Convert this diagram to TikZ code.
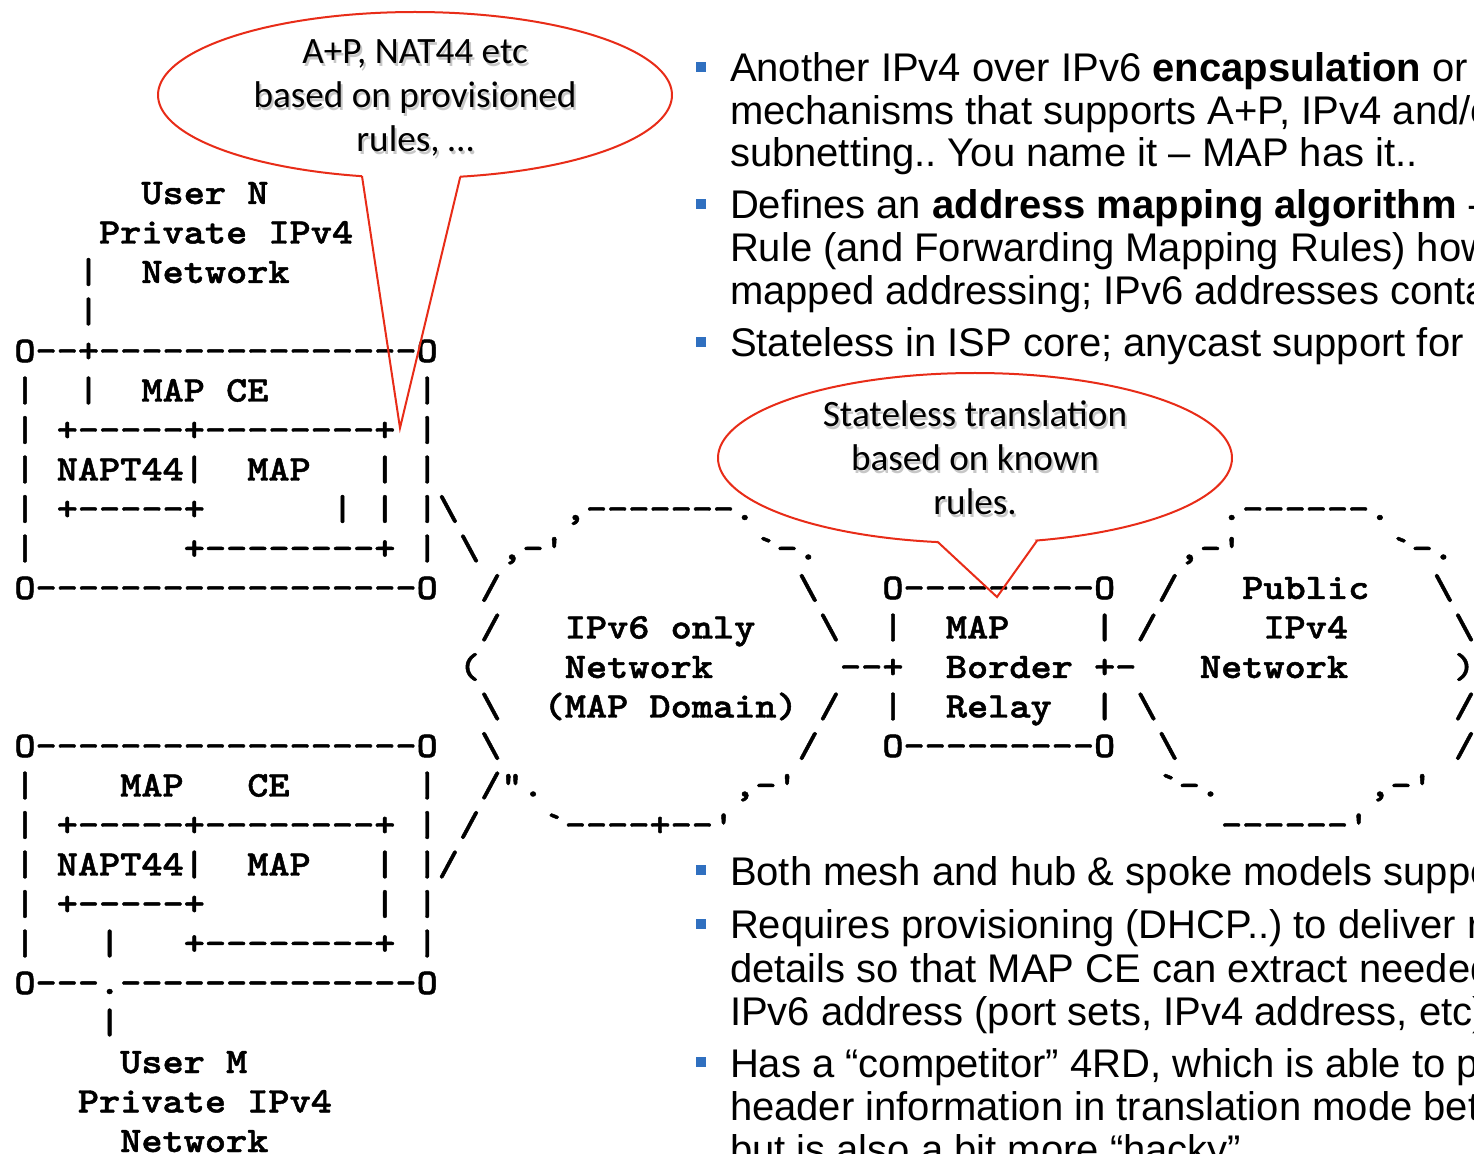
\documentclass[tikz,border=0pt]{standalone}
\usepackage{fontspec}
\setmainfont{Liberation Sans}
\newfontfamily\artfont{lmmonolt10-bold.otf}[FakeStretch=1.12,FakeBold=1.3,Ligatures=TeXOff]
\newfontfamily\calfont{Carlito}
\definecolor{callred}{RGB}{232,44,24}
\definecolor{bulletblue}{RGB}{48,112,192}
\frenchspacing
\tikzset{
  art/.style={anchor=base west, inner sep=0pt, outer sep=0pt, font=\artfont\fontsize{18pt}{18pt}\selectfont},
  body/.style={anchor=base west, inner sep=0pt, outer sep=0pt, font=\fontsize{20pt}{24pt}\selectfont\frenchspacing},
  calltext/.style={anchor=base, inner sep=0pt, outer sep=0pt, font=\calfont\fontsize{18.6pt}{22pt}\selectfont},
  callshadow/.style={calltext, text=black!40, opacity=0.55},
  callout/.style={draw=callred, line width=1pt, line join=miter},
  bulletsq/.style={fill=bulletblue, draw=none, minimum size=4.8pt, inner sep=0pt, outer sep=0pt},
}
\newcommand\art[3]{\node[art] (a#2x#1) at ({14.4+21.17*#1},{204+39.5*#2}) {#3};}
\newcommand\ctext[4]{\node[callshadow] (#1s) at ({#2+2},{#3+3}) {#4};\node[calltext] (#1) at (#2,#3) {#4};}
\begin{document}
\begin{tikzpicture}[x=0.5pt,y=-0.5pt]
\useasboundingbox (0,0) rectangle (1474,1154);
\fill[white] (0,0) rectangle (1474,1154);
\clip (0,0) rectangle (1474,1154);

% ---- ASCII art ----
\art{6}{0}{User N}
\art{4}{1}{Private IPv4}
\art{3}{2}{|}\art{6}{2}{Network}
\art{3}{3}{|}
\art{0}{4}{O--+---------------O}
\art{0}{5}{|}\art{3}{5}{|}\art{6}{5}{MAP CE}\art{19}{5}{|}
\art{0}{6}{|}\art{2}{6}{+-----+--------+}\art{19}{6}{|}
\art{0}{7}{|}\art{2}{7}{NAPT44|}\art{11}{7}{MAP}\art{17}{7}{|}\art{19}{7}{|}
\art{0}{8}{|}\art{2}{8}{+-----+}\art{15}{8}{|}\art{17}{8}{|}\art{19}{8}{|\textbackslash}\art{26}{8}{,-------.}\art{57}{8}{.------.}
\art{0}{9}{|}\art{8}{9}{+--------+}\art{19}{9}{|}\art{21}{9}{\textbackslash}\art{23}{9}{,-'}\art{35}{9}{`-.}\art{55}{9}{,-'}\art{65}{9}{`-.}
\art{0}{10}{O------------------O}\art{22}{10}{/}\art{37}{10}{\textbackslash}\art{41}{10}{O---------O}\art{54}{10}{/}\art{58}{10}{Public}\art{67}{10}{\textbackslash}
\art{22}{11}{/}\art{26}{11}{IPv6 only}\art{38}{11}{\textbackslash}\art{41}{11}{|}\art{44}{11}{MAP}\art{51}{11}{|}\art{53}{11}{/}\art{59}{11}{IPv4}\art{68}{11}{\textbackslash}
\art{21}{12}{(}\art{26}{12}{Network}\art{39}{12}{--+}\art{44}{12}{Border}\art{51}{12}{+-}\art{56}{12}{Network}\art{68}{12}{)}
\art{22}{13}{\textbackslash}\art{25}{13}{(MAP Domain)}\art{38}{13}{/}\art{41}{13}{|}\art{44}{13}{Relay}\art{51}{13}{|}\art{53}{13}{\textbackslash}\art{68}{13}{/}
\art{0}{14}{O------------------O}\art{22}{14}{\textbackslash}\art{37}{14}{/}\art{41}{14}{O---------O}\art{54}{14}{\textbackslash}\art{68}{14}{/}
\art{0}{15}{|}\art{5}{15}{MAP}\art{11}{15}{CE}\art{19}{15}{|}\art{22}{15}{/".}\art{34}{15}{,-'}\art{54}{15}{`-.}\art{64}{15}{,-'}
\art{0}{16}{|}\art{2}{16}{+-----+--------+}\art{19}{16}{|}\art{21}{16}{/}\art{25}{16}{`----+--'}\art{57}{16}{------'}
\art{0}{17}{|}\art{2}{17}{NAPT44|}\art{11}{17}{MAP}\art{17}{17}{|}\art{19}{17}{|/}
\art{0}{18}{|}\art{2}{18}{+-----+}\art{17}{18}{|}\art{19}{18}{|}
\art{0}{19}{|}\art{4}{19}{|}\art{8}{19}{+--------+}\art{19}{19}{|}
\art{0}{20}{O---.--------------O}
\art{4}{21}{|}
\art{5}{22}{User M}
\art{3}{23}{Private IPv4}
\art{5}{24}{Network}

% ---- bullet text ----
\node[bulletsq] (b1) at (701,67) {};
\node[body] (t1a) at (730,82) {Another IPv4 over IPv6 \textbf{encapsulation} or};
\node[body] (t1b) at (730,124.5) {mechanisms that supports A+P, IPv4 and/o};
\node[body] (t1c) at (730,167) {subnetting.. You name it – MAP has it..};
\node[bulletsq] (b2) at (701,204) {};
\node[body] (t2a) at (730,219) {Defines an \textbf{address mapping algorithm} -};
\node[body] (t2b) at (730,262) {Rule (and Forwarding Mapping Rules) how};
\node[body] (t2c) at (730,305) {mapped addressing; IPv6 addresses conta};
\node[bulletsq] (b3) at (701,342) {};
\node[body] (t3a) at (730,357) {Stateless in ISP core; anycast support for};
\node[bulletsq] (b4) at (701,870) {};
\node[body] (t4a) at (730,885) {Both mesh and hub \& spoke models suppo};
\node[bulletsq] (b5) at (701,924) {};
\node[body] (t5a) at (730,939) {Requires provisioning (DHCP..) to deliver r};
\node[body] (t5b) at (730,982) {details so that MAP CE can extract needed};
\node[body] (t5c) at (730,1025) {IPv6 address (port sets, IPv4 address, etc)};
\node[bulletsq] (b6) at (701,1062) {};
\node[body] (t6a) at (730,1077) {Has a “competitor” 4RD, which is able to p};
\node[body] (t6b) at (730,1120) {header information in translation mode bet};
\node[body] (t6c) at (730,1163) {but is also a bit more “hacky”};

% ---- callouts ----
\draw[callout] (362,176.2) -- (400,428) -- (460.3,176.7)
  -- plot[domain=79.9:-258.1,samples=180] ({415+257*cos(\x)},{95+83*sin(\x)}) -- cycle;
\ctext{c1a}{415}{64}{A+P, NAT44 etc}
\ctext{c1b}{415}{108}{based on provisioned}
\ctext{c1c}{415}{152}{rules, …}

\draw[callout] (937.9,542.1) -- (997,597) -- (1037.2,540.5)
  -- plot[domain=76:-261.7,samples=180] ({975+257*cos(\x)},{458+85*sin(\x)}) -- cycle;
\ctext{c2a}{975}{427}{Stateless translation}
\ctext{c2b}{975}{471}{based on known}
\ctext{c2c}{975}{515}{rules.}
\end{tikzpicture}
\end{document}
